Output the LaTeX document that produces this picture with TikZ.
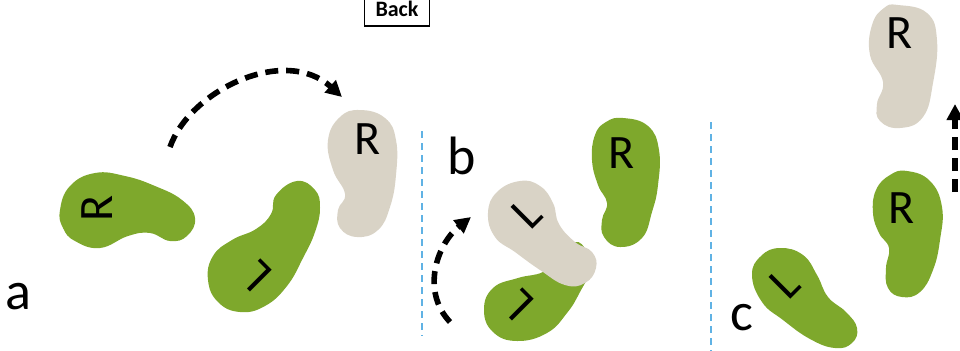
\documentclass[tikz,border=0pt]{standalone}
\usepackage{fontspec}
\setmainfont{Carlito}
\usetikzlibrary{arrows.meta}
\definecolor{beangreen}{RGB}{126,168,44}
\definecolor{beanbeige}{RGB}{217,211,198}
\definecolor{guideblue}{RGB}{96,178,228}
\tikzset{
  green bean/.style={fill=beangreen},
  beige bean/.style={fill=beanbeige},
  glyph/.style={font=\fontsize{24}{24}\selectfont, inner sep=0pt},
  panel/.style={font=\fontsize{27}{27}\selectfont, inner sep=0pt},
  move/.style={line width=2.8pt, dash pattern=on 6.5pt off 4pt, -{Triangle[length=8pt,width=8pt]}},
  divider/.style={guideblue, line width=0.8pt, dash pattern=on 3.5pt off 2.5pt}
}

\begin{document}
\begin{tikzpicture}[x=0.5pt, y=-0.5pt]
    \useasboundingbox (0,0) rectangle (960,350);

    % Button
    \node[draw, line width=0.6pt, minimum width=32.5pt, minimum height=17.5pt, inner sep=0pt,
        font=\bfseries\fontsize{11}{11}\selectfont] (back) at (397,8.5) {Back};

    % Dividers
    \coordinate (d1top) at (422,131);
    \coordinate (d1bot) at (422,336);
    \coordinate (d2top) at (711,122);
    \coordinate (d2bot) at (711,352);
    \draw[divider] (d1top) -- (d1bot);
    \draw[divider] (d2top) -- (d2bot);

    % Beans, panel a
    \fill[green bean] plot[smooth cycle, tension=0.75] coordinates {(60,210) (70,186) (95,173) (125,176)
        (155,186) (182,200) (195,218) (187,236) (170,241) (150,233) (128,236) (100,248) (75,241) (63,228)};
    \fill[green bean] plot[smooth cycle, tension=0.75] coordinates {(297,181) (315,190) (320,208) (315,232)
        (303,258) (287,286) (265,306) (240,312) (218,302) (208,280) (213,256) (232,240) (256,229) (271,214) (276,195)};
    \fill[beige bean] plot[smooth cycle, tension=0.75] coordinates {(360,110) (385,118) (396,140) (396,175)
        (390,207) (378,230) (357,237) (340,228) (338,210) (345,194) (333,170) (328,140) (340,117)};

    % Beans, panel b
    \fill[green bean] plot[smooth cycle, tension=0.75] coordinates {(623,118) (648,126) (659,150) (658,185)
        (652,212) (642,238) (620,247) (604,237) (602,220) (607,203) (598,185) (592,160) (595,135) (606,122)};
    \fill[green bean] plot[smooth cycle, tension=0.75] coordinates {(575,242) (587,252) (590,270) (580,292)
        (567,313) (547,333) (517,341) (493,332) (484,310) (493,288) (518,278) (543,272) (560,258)};
    \fill[beige bean] plot[smooth cycle, tension=0.75] coordinates {(520,181) (540,186) (553,203) (559,224)
        (575,242) (592,252) (596,268) (585,283) (565,285) (540,270) (515,252) (495,237) (488,213) (497,192)};

    % Beans, panel c
    \fill[beige bean] plot[smooth cycle, tension=0.75] coordinates {(898,5) (927,13) (937,40) (933,83)
        (923,117) (900,128) (880,121) (877,104) (883,82) (870,55) (872,25) (884,8)};
    \fill[green bean] plot[smooth cycle, tension=0.75] coordinates {(907,171) (930,181) (942,207) (940,240)
        (933,270) (920,292) (902,297) (888,288) (886,268) (889,248) (879,233) (873,213) (876,190) (890,175)};
    \fill[green bean] plot[smooth cycle, tension=0.75] coordinates {(780,248) (803,255) (817,275)
        (828,297) (846,312) (857,328) (852,343) (835,348) (810,339) (783,320) (762,302) (752,275) (761,256)};

    % Letters on the beans
    \node[glyph, rotate=90] (Ra) at (97,208) {R};
    \node[glyph, rotate=135] (La) at (256,276) {L};
    \node[glyph] (Rma) at (368,139) {R};
    \node[glyph] (Rb) at (622,153) {R};
    \node[glyph, rotate=135] (Lb) at (518,305) {L};
    \node[glyph, rotate=45] (Lmb) at (527,213) {L};
    \node[glyph] (Rmc) at (900,33) {R};
    \node[glyph] (Rc) at (902,208) {R};
    \node[glyph, rotate=45] (Lc) at (785,283) {L};

    % Panel labels
    \node[panel] (pa) at (18,297) {a};
    \node[panel] (pb) at (462,156) {b};
    \node[panel] (pc) at (742,318) {c};

    % Moves
    \coordinate (mafrom) at (170,147);
    \coordinate (mato) at (342,97);
    \coordinate (mbfrom) at (450,322);
    \coordinate (mbto) at (471,217);
    \coordinate (mcfrom) at (955,192);
    \coordinate (mcto) at (955,104);
    \draw[move] (mafrom) .. controls (190,90) and (285,45) .. (mato);
    \draw[move] (mbfrom) .. controls (420,290) and (438,243) .. (mbto);
    \draw[move] (mcfrom) -- (mcto);

\end{tikzpicture}
\end{document}
